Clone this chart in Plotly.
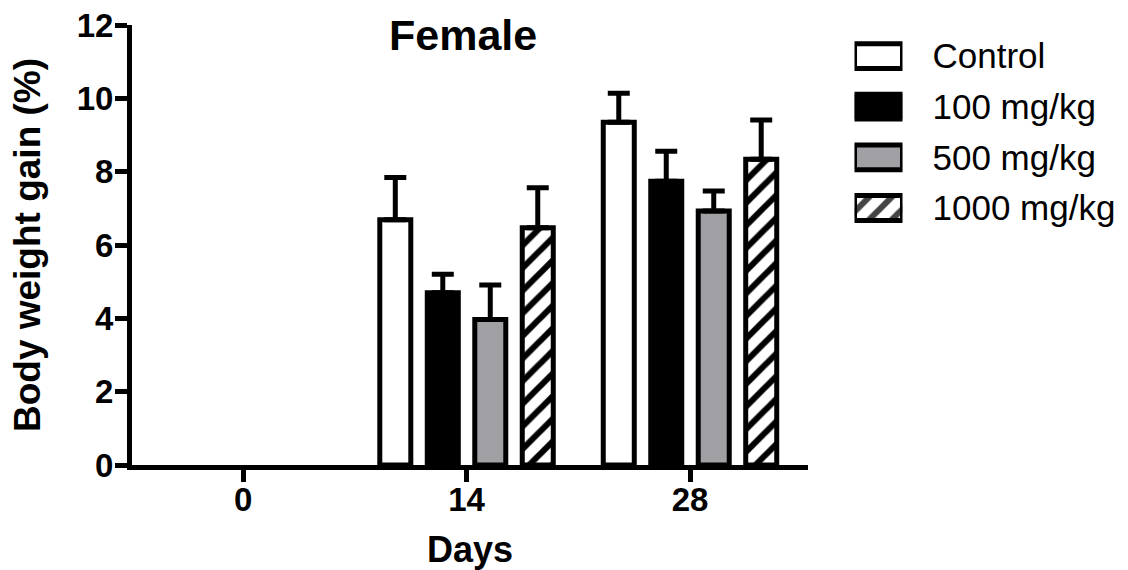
import plotly.graph_objects as go

# ---- data (nothing is drawn at day 0) ----
days = ["0", "14", "28"]
groups = ["Control", "100 mg/kg", "500 mg/kg", "1000 mg/kg"]
control = [None, 6.69, 9.35]
control_sem = [None, 1.15, 0.79]
mg100 = [None, 4.70, 7.74]
mg100_sem = [None, 0.50, 0.82]
mg500 = [None, 3.97, 6.93]
mg500_sem = [None, 0.94, 0.54]
mg1000 = [None, 6.47, 8.34]
mg1000_sem = [None, 1.09, 1.07]
y_ticks = [0, 2, 4, 6, 8, 10, 12]

series_values = [control, mg100, mg500, mg1000]
series_errors = [control_sem, mg100_sem, mg500_sem, mg1000_sem]

# ---- styles ----
fills = ["white", "black", "#a0a0a4", "white"]
patterns = ["", "", "", "/"]
FONT = "Arial, Liberation Sans, sans-serif"
LW = 5

fig = go.Figure()

for name, vals, errs, fill, pat in zip(groups, series_values, series_errors, fills, patterns):
    fig.add_trace(go.Bar(
        name=name, x=days, y=vals,
        marker=dict(color=fill, line=dict(color="black", width=LW),
                    pattern=dict(shape=pat, fgcolor="black", bgcolor="white",
                                 fgopacity=1, size=16, solidity=0.38)),
        error_y=dict(type="data", symmetric=False, array=errs,
                     arrayminus=[None if e is None else 0 for e in errs],
                     color="black", thickness=LW, width=11),
        showlegend=False, hoverinfo="skip",
    ))

# legend swatches drawn as bars on a small auxiliary axis pair
fig.add_trace(go.Bar(
    x=[1] * len(groups), y=groups, orientation="h", xaxis="x2", yaxis="y2",
    width=0.49,
    marker=dict(color=fills, line=dict(color="black", width=LW),
                pattern=dict(shape=patterns, fgcolor="black", fgopacity=1,
                             size=16, solidity=0.38)),
    showlegend=False, hoverinfo="skip",
))

fig.update_layout(
    width=1128, height=570,
    margin=dict(l=132, r=0, t=25, b=105, pad=0),
    paper_bgcolor="white", plot_bgcolor="white",
    barmode="group", bargap=0.15, bargroupgap=0.347,
    showlegend=False,
    font=dict(family=FONT, color="black"),
    xaxis=dict(
        domain=[0, 0.6787], type="category", categoryorder="array", categoryarray=days,
        range=[-0.497, 2.528],
        showline=True, linecolor="black", linewidth=LW,
        ticks="outside", ticklen=12, tickwidth=LW, tickcolor="black",
        ticklabelstandoff=-11,
        tickfont=dict(family=FONT, size=33, color="black", weight="bold"),
        title=dict(text="Days", font=dict(family=FONT, size=36, color="black", weight="bold"),
                   standoff=27),
        showgrid=False, zeroline=False, automargin=False,
    ),
    yaxis=dict(
        range=[0, 12], tickvals=y_ticks, ticktext=[str(v) for v in y_ticks],
        showline=True, linecolor="black", linewidth=LW,
        ticks="outside", ticklen=12, tickwidth=LW, tickcolor="black",
        ticklabelstandoff=-5,
        tickfont=dict(family=FONT, size=33, color="black", weight="bold"),
        title=dict(text="Body weight gain (%)",
                   font=dict(family=FONT, size=37, color="black", weight="bold"),
                   standoff=26),
        showgrid=False, zeroline=False, automargin=False,
    ),
    xaxis2=dict(domain=[0.7254, 0.7736], anchor="y2", range=[0, 1], visible=False,
                fixedrange=True),
    yaxis2=dict(domain=[0.5266, 0.987], anchor="x2", side="right", type="category",
                categoryorder="array", categoryarray=groups, range=[3.5, -0.5],
                showline=False, showgrid=False, zeroline=False,
                ticks="outside", ticklen=22, tickcolor="rgba(0,0,0,0)",
                tickfont=dict(family=FONT, size=35, color="black"),
                automargin=False, fixedrange=True),
    annotations=[dict(text="Female", xref="paper", yref="paper", x=0.332, y=0.977,
                      xanchor="center", yanchor="middle", showarrow=False,
                      font=dict(family=FONT, size=43, color="black", weight="bold"))],
)

fig.write_html("out.html", config={"displayModeBar": False},
               post_script="document.body.style.margin='0';")
